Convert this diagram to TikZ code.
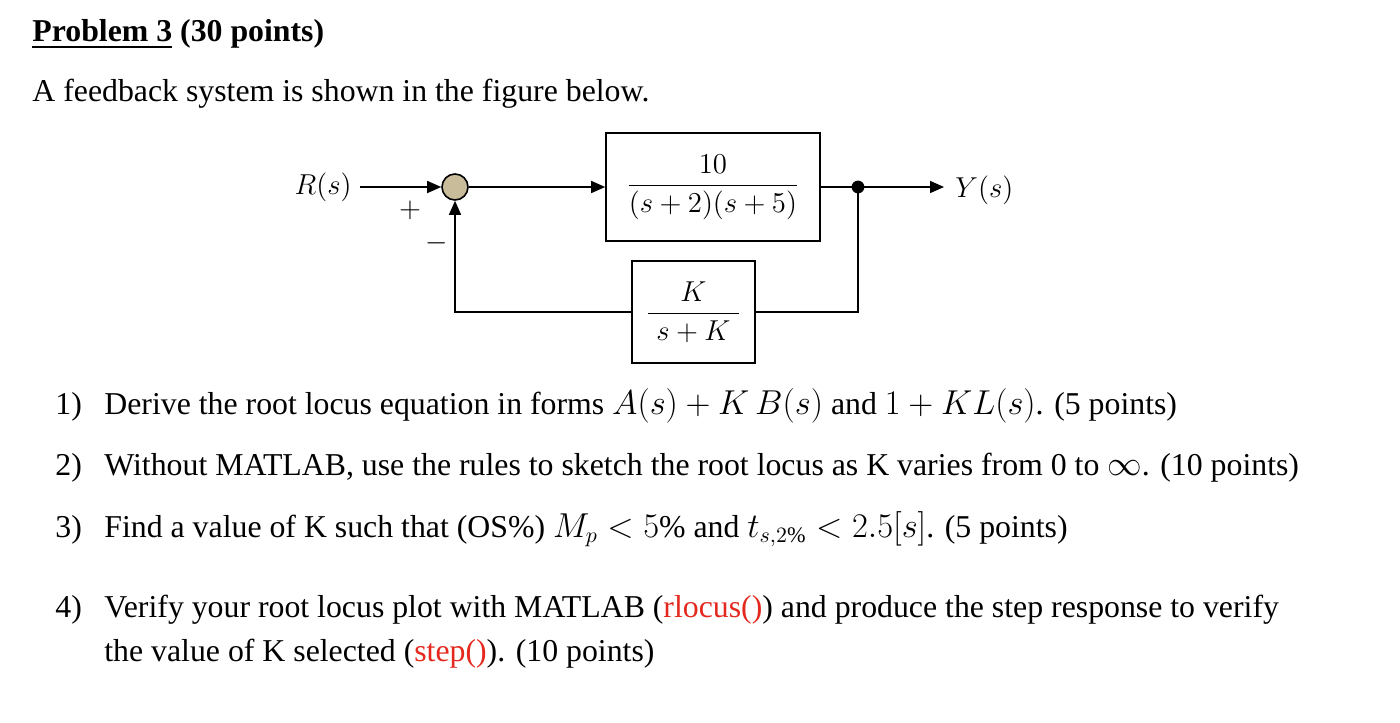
\documentclass[tikz,border=0pt]{standalone}
\usepackage{amsmath}
\usepackage{fontspec}
\setmainfont{Liberation Serif}
\usetikzlibrary{arrows.meta}
\definecolor{tan}{RGB}{200,188,155}
\definecolor{myred}{RGB}{228,40,30}
\tikzset{
  txt/.style={anchor=base west,inner sep=0pt,font=\fontsize{15.9}{18}\selectfont},
  blk/.style={draw,line width=0.8pt,inner sep=0pt},
  sig/.style={line width=0.7pt},
  arr/.style={sig,-{Triangle[length=7pt,width=6pt]}},
  lbl/.style={inner sep=0pt,font=\fontsize{13.5}{15}\selectfont}
}
\begin{document}
\begin{tikzpicture}[x=0.5pt,y=-0.5pt]
\useasboundingbox (0,0) rectangle (1400,722);
\node[txt] (title) at (32,42) {\textbf{\underline{Problem 3} (30 points)}};
\node[txt] (intro) at (32,101) {A feedback system is shown in the figure below.};
% diagram
\node[draw,circle,fill=tan,minimum size=13pt,inner sep=0pt,line width=0.8pt] (sum) at (455,187) {};
\node[lbl,anchor=east] (R) at (352,187) {$R(s)$};
\node[blk,minimum width=107pt,minimum height=54pt] (G) at (713,187) {};
\node[lbl] (Gtxt) at (713,187) {$\dfrac{\;10\;}{(s+2)(s+5)}$};
\node[blk,minimum width=61.5pt,minimum height=51pt] (H) at (693.5,312) {};
\node[lbl] (Htxt) at (693.5,312) {$\dfrac{K}{\;s+K\;}$};
\node[lbl,anchor=west] (Y) at (955,190) {$Y(s)$};
\coordinate (dot) at (858,187);
\coordinate (out) at (944,187);
\fill (dot) circle (3.2pt);
\node[lbl] (plus) at (410,210) {$+$};
\node[lbl] (minus) at (437,243) {$-$};
\draw[arr] (R.east) ++(8,0) -- (sum.west);
\draw[arr] (sum.east) -- (G.west);
\draw[arr] (G.east) -- (out);
\draw[sig] (dot) |- (H.east);
\draw[arr] (H.west) -| (sum.south);
% items
\node[txt] (n1) at (55,414) {1)};
\node[txt] (t1) at (104,414) {Derive the root locus equation in forms $A(s)+K\,B(s)$ and $1+KL(s)$. (5 points)};
\node[txt] (n2) at (55,475) {2)};
\node[txt] (t2) at (104,475) {Without MATLAB, use the rules to sketch the root locus as K varies from 0 to $\infty$. (10 points)};
\node[txt] (n3) at (55,537) {3)};
\node[txt] (t3) at (104,537) {Find a value of K such that (OS\%) $M_p<5\%$ and $t_{s,2\%}<2.5[s]$. (5 points)};
\node[txt] (n4) at (55,617) {4)};
\node[txt] (t4) at (104,617) {Verify your root locus plot with MATLAB (\textcolor{myred}{rlocus()}) and produce the step response to verify};
\node[txt] (t5) at (104,661) {the value of K selected (\textcolor{myred}{step()}). (10 points)};
\end{tikzpicture}
\end{document}
